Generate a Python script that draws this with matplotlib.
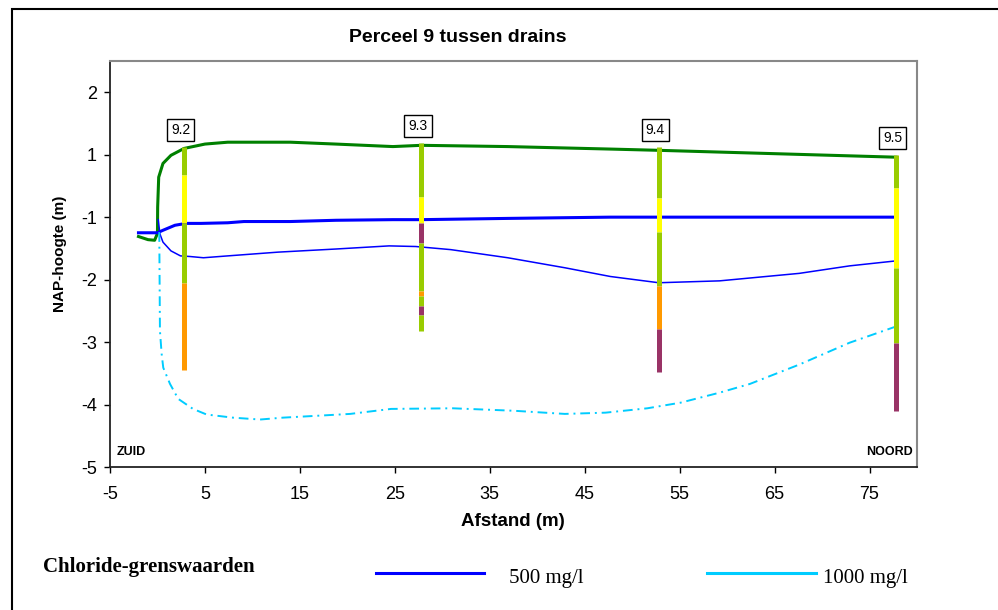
import numpy as np
import matplotlib.pyplot as plt
from matplotlib.lines import Line2D
from matplotlib.patches import Rectangle

plt.rcParams['font.family'] = 'Liberation Sans'
plt.rcParams['axes.unicode_minus'] = False

# the NAP axis jumps straight from -1 to 0 (that stretch is left out)
def squeeze(y):
    y = np.asarray(y, dtype=float)
    return np.where(y > 0, y, np.where(y < -1, y + 1, 0.0))


def unsqueeze(p):
    p = np.asarray(p, dtype=float)
    return np.where(p > 0, p, p - 1)


# maaiveld / grondwater (groen)
green_x = [-2.0, -1.0, -0.3, 0.0, 0.02, 0.13, 0.58, 1.42, 2.8, 5.0, 7.4, 14.0,
           18.8, 24.8, 27.8, 36.9, 47.7, 52.8, 77.8]
green_y = [-1.31, -1.36, -1.37, -1.26, 0.16, 0.64, 0.86, 0.99, 1.10, 1.17, 1.20, 1.20,
           1.17, 1.13, 1.15, 1.13, 1.09, 1.07, 0.96]

# 500 mg/l grens, bovenkant (dik)
blue_x = [-2.0, 0.0, 0.58, 1.84, 3.0, 4.6, 7.4, 9.1, 14.0, 18.8, 24.8, 27.8,
          36.9, 47.7, 52.8, 59.2, 77.8]
blue_y = [-1.25, -1.25, -1.21, -1.13, -1.10, -1.10, -1.09, -1.07, -1.07, -1.05,
          -1.04, -1.04, -1.02, -1.0, -1.0, -1.0, -1.0]

# 500 mg/l grens, onderkant (dun)
thin_x = [0.08, 0.26, 0.58, 1.42, 2.42, 3.42, 4.84, 7.42, 12.7, 18.8, 24.4, 27.2,
          30.9, 36.9, 42.9, 47.7, 52.8, 59.2, 67.6, 72.9, 77.8]
thin_y = [-1.04, -1.27, -1.40, -1.54, -1.62, -1.63, -1.65, -1.62, -1.56, -1.51,
          -1.46, -1.47, -1.52, -1.65, -1.81, -1.95, -2.05, -2.02, -1.90, -1.78, -1.70]

# 1000 mg/l grens
cyan_x = [0.19, 0.26, 0.44, 0.61, 1.32, 2.19, 3.74, 5.18, 7.95, 10.8, 13.2, 16.8,
          20.3, 24.6, 31.1, 37.6, 42.9, 47.2, 51.6, 55.1, 59.2, 62.4, 67.6, 72.9, 77.8]
cyan_y = [-1.24, -2.82, -3.19, -3.41, -3.67, -3.91, -4.07, -4.16, -4.21, -4.24,
          -4.21, -4.18, -4.15, -4.07, -4.06, -4.10, -4.15, -4.13, -4.06, -3.97,
          -3.81, -3.67, -3.36, -3.01, -2.75]

# boringen: positie, naam, laaggrenzen (boven -> onder) en klasse per laag
well_x = [2.8, 27.8, 52.8, 77.8]
well_names = ['9.2', '9.3', '9.4', '9.5']
well_bounds = [
    [1.12, 0.67, -1.10, -2.06, -3.44],
    [1.18, 0.33, -1.10, -1.42, -2.18, -2.26, -2.42, -2.56, -2.82],
    [1.12, 0.30, -1.23, -2.10, -2.79, -3.48],
    [0.99, 0.46, -1.81, -3.01, -4.10],
]
well_class = [
    [1, 2, 1, 3],
    [1, 2, 4, 1, 3, 1, 4, 1],
    [1, 2, 1, 3, 4],
    [1, 2, 1, 4],
]
class_colors = {1: '#99CC00', 2: '#FFFF00', 3: '#FF9900', 4: '#993366'}

x_ticks = [-5, 5, 15, 25, 35, 45, 55, 65, 75]
y_ticks = [2, 1, -1, -2, -3, -4, -5]

legend_labels = ['500 mg/l', '1000 mg/l']
legend_colors = ['#0000FF', '#00CCFF']

W, H = 998, 610
fig = plt.figure(figsize=(W / 100, H / 100), dpi=100)
ax = fig.add_axes([110 / W, 1 - 467 / H, 807 / W, 406 / H])
ax.set_yscale('function', functions=(squeeze, unsqueeze))

ax.plot(green_x, green_y, color='#008000', lw=2.2, zorder=3)
ax.plot(blue_x, blue_y, color='#0000FF', lw=2.2, zorder=3)
ax.plot(thin_x, thin_y, color='#0000FF', lw=1.1, zorder=3)
ax.plot(cyan_x, cyan_y, color='#00CCFF', lw=1.4, ls=(0, (5, 2.5, 1, 2.5)), zorder=3)

for x, name, bounds, klass in zip(well_x, well_names, well_bounds, well_class):
    ax.vlines([x] * len(klass), bounds[1:], bounds[:-1],
              colors=[class_colors[k] for k in klass], lw=3.6, zorder=5)
    ax.annotate(name, (x, bounds[0]), xytext=(-2.5, 12.5), textcoords='offset points',
                ha='center', va='center', fontsize=10, zorder=6,
                bbox=dict(boxstyle='square,pad=0.3', fc='white', ec='black', lw=1))

ax.set_xlim(-5, 80)
ax.set_ylim(-5, 2.5)
ax.set_xticks(x_ticks)
ax.set_xticklabels([str(v) for v in x_ticks])
ax.set_yticks(y_ticks)
ax.set_yticklabels([str(v) for v in y_ticks])
ax.minorticks_off()
ax.tick_params(axis='both', direction='out', length=4.5, width=1, labelsize=13, colors='black')
ax.tick_params(axis='x', pad=9)
ax.tick_params(axis='y', pad=5)

for side in ['left', 'bottom']:
    ax.spines[side].set_color('#222222')
    ax.spines[side].set_linewidth(1.3)
for side in ['top', 'right']:
    ax.spines[side].set_color('#888888')
    ax.spines[side].set_linewidth(1.5)

ax.text(0.008, 0.037, 'ZUID', transform=ax.transAxes, fontsize=9, fontweight='bold',
        ha='left', va='center')
ax.text(0.995, 0.037, 'NOORD', transform=ax.transAxes, fontsize=9, fontweight='bold',
        ha='right', va='center')

fig.text(458 / W, 1 - 38 / H, 'Perceel 9 tussen drains', fontsize=14, fontweight='bold',
         ha='center', va='center')
fig.text(513 / W, 1 - 522 / H, 'Afstand (m)', fontsize=13.5, fontweight='bold',
         ha='center', va='center')
fig.text(60 / W, 1 - 254 / H, 'NAP-hoogte (m)', fontsize=11, fontweight='bold',
         ha='center', va='center', rotation=90)

# onderste legenda
fig.text(43 / W, 1 - 567 / H, 'Chloride-grenswaarden', family='Liberation Serif',
         fontsize=15, fontweight='bold', ha='left', va='center')
legend_x = [(376, 484, 509), (707, 816, 823)]
for (x0, x1, xt), label, color in zip(legend_x, legend_labels, legend_colors):
    fig.add_artist(Line2D([x0 / W, x1 / W], [1 - 573 / H] * 2, color=color, lw=2.2,
                          transform=fig.transFigure))
    fig.text(xt / W, 1 - 578 / H, label, family='Liberation Serif', fontsize=15,
             ha='left', va='center')

# kader om de hele grafiek
fig.add_artist(Rectangle((12 / W, -0.1), 2, 1.1 - 9 / H, transform=fig.transFigure,
                         fill=False, ec='black', lw=1.5))

fig.savefig('out.png', dpi=100)
